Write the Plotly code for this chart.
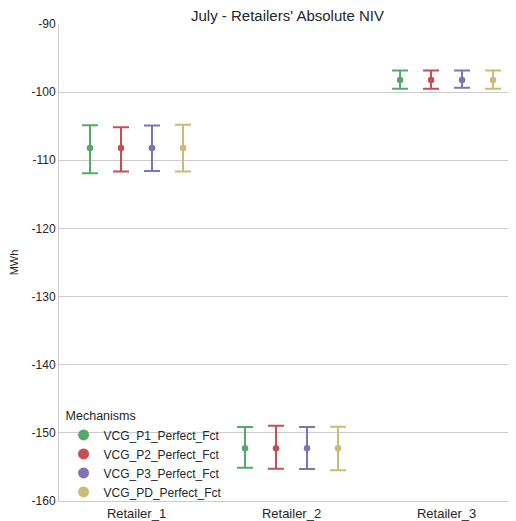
import plotly.graph_objects as go

categories = ["Retailer_1", "Retailer_2", "Retailer_3"]
mechanisms = ["VCG_P1_Perfect_Fct", "VCG_P2_Perfect_Fct", "VCG_P3_Perfect_Fct", "VCG_PD_Perfect_Fct"]
colors = ["#55A868", "#C44E52", "#8172B2", "#CCB974"]

# point estimates (MWh) per mechanism, per retailer
means = {
    "VCG_P1_Perfect_Fct": [-108.2, -152.25, -98.2],
    "VCG_P2_Perfect_Fct": [-108.2, -152.25, -98.2],
    "VCG_P3_Perfect_Fct": [-108.2, -152.25, -98.2],
    "VCG_PD_Perfect_Fct": [-108.2, -152.25, -98.2],
}
ci_high = {
    "VCG_P1_Perfect_Fct": [-104.86, -149.14, -96.82],
    "VCG_P2_Perfect_Fct": [-105.15, -148.94, -96.82],
    "VCG_P3_Perfect_Fct": [-104.90, -149.14, -96.82],
    "VCG_PD_Perfect_Fct": [-104.80, -149.10, -96.82],
}
ci_low = {
    "VCG_P1_Perfect_Fct": [-111.92, -155.13, -99.50],
    "VCG_P2_Perfect_Fct": [-111.63, -155.28, -99.50],
    "VCG_P3_Perfect_Fct": [-111.58, -155.32, -99.35],
    "VCG_PD_Perfect_Fct": [-111.63, -155.47, -99.50],
}
y_ticks = [-160, -150, -140, -130, -120, -110, -100, -90]
y_ticktext = ["-160", "-150", "-140", "-130", "-120", "-110", "-100", "-90"]

dodge = [-0.3, -0.1, 0.1, 0.3]
fig = go.Figure()
for i, m in enumerate(mechanisms):
    xs = [j + dodge[i] for j in range(len(categories))]
    mu = means[m]
    up = [h - v for h, v in zip(ci_high[m], mu)]
    dn = [v - l for l, v in zip(ci_low[m], mu)]
    fig.add_trace(go.Scatter(
        x=xs, y=mu, mode="markers", showlegend=False,
        marker=dict(color=colors[i], size=6.5),
        error_y=dict(type="data", symmetric=False, array=up, arrayminus=dn,
                     color=colors[i], thickness=2, width=8),
    ))
    fig.add_trace(go.Scatter(
        x=[None], y=[None], mode="markers", name=m,
        marker=dict(color=colors[i], size=11),
    ))

fig.update_layout(
    width=508, height=513,
    margin=dict(l=51, r=0, t=16, b=18),
    paper_bgcolor="white", plot_bgcolor="white",
    font=dict(family="Liberation Sans, Arial, sans-serif", color="#262626", size=12),
    title=dict(text="July - Retailers' Absolute NIV", x=0.5, xref="paper", y=0.984, yanchor="middle",
               font=dict(size=15)),
    xaxis=dict(range=[-0.5, 2.448], tickvals=list(range(len(categories))), ticktext=categories,
               showgrid=False, zeroline=False, showline=True, linecolor="#cccccc", linewidth=1,
               ticks="", tickfont=dict(size=13)),
    yaxis=dict(range=[-160, -90], tickvals=y_ticks, ticktext=y_ticktext,
               showgrid=True, gridcolor="#cccccc", gridwidth=1, zeroline=False,
               showline=True, linecolor="#cccccc", linewidth=1, ticks="",
               title=dict(text="MWh", font=dict(size=11), standoff=10), tickfont=dict(size=12)),
    legend=dict(title=dict(text="Mechanisms", font=dict(size=12.5)), x=0.01, y=-0.013,
                xanchor="left", yanchor="bottom", bgcolor="rgba(0,0,0,0)",
                font=dict(size=12), itemsizing="trace"),
)

fig.write_html("out.html")
